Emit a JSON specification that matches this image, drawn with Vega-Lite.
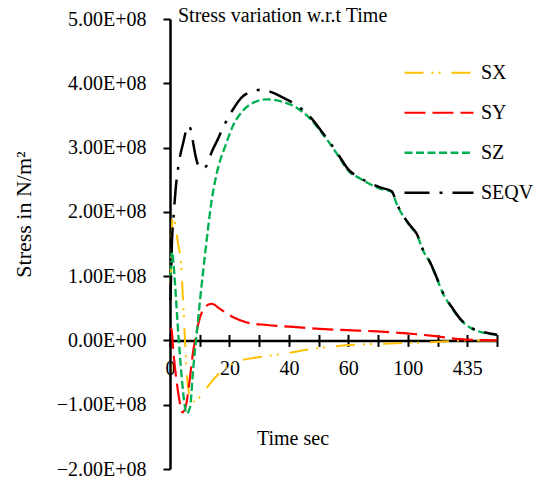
{
  "$schema": "https://vega.github.io/schema/vega-lite/v6.json",
  "width": 327,
  "height": 450,
  "autosize": {"type": "none"},
  "padding": {"left": 170, "top": 19, "right": 43, "bottom": 13},
  "background": "white",
  "title": {"text": "Stress variation w.r.t Time", "anchor": "start", "frame": "group", "font": "Liberation Serif", "fontSize": 20, "fontWeight": "normal", "color": "black", "dx": 8, "dy": 32, "baseline": "alphabetic", "offset": -1},
  "config": {
    "view": {"stroke": null},
    "axis": {"grid": false, "labelFont": "Liberation Serif", "labelFontSize": 20, "labelColor": "black", "titleFont": "Liberation Serif", "titleFontWeight": "normal", "titleColor": "black", "domainColor": "black", "tickColor": "black"}
  },
  "data": {"values": [
    {"series": "SX", "t": 0.17, "stress": 86000000},
    {"series": "SX", "t": 1.01, "stress": 198000000},
    {"series": "SX", "t": 1.85, "stress": 179000000},
    {"series": "SX", "t": 2.69, "stress": 151000000},
    {"series": "SX", "t": 3.7, "stress": 121000000},
    {"series": "SX", "t": 4.47, "stress": 54000000},
    {"series": "SX", "t": 5.05, "stress": 0},
    {"series": "SX", "t": 5.62, "stress": -50000000},
    {"series": "SX", "t": 6.73, "stress": -87000000},
    {"series": "SX", "t": 8.07, "stress": -95000000},
    {"series": "SX", "t": 10.09, "stress": -88000000},
    {"series": "SX", "t": 12.35, "stress": -74000000},
    {"series": "SX", "t": 14.57, "stress": -61000000},
    {"series": "SX", "t": 17.83, "stress": -46000000},
    {"series": "SX", "t": 21.29, "stress": -36000000},
    {"series": "SX", "t": 24.0, "stress": -31000000},
    {"series": "SX", "t": 28.59, "stress": -27000000},
    {"series": "SX", "t": 38.11, "stress": -21000000},
    {"series": "SX", "t": 48.2, "stress": -13000000},
    {"series": "SX", "t": 58.3, "stress": -8000000},
    {"series": "SX", "t": 71.75, "stress": -5000000},
    {"series": "SX", "t": 86.35, "stress": -3000000},
    {"series": "SX", "t": 101.9, "stress": 0},
    {"series": "SX", "t": 110, "stress": 0},
    {"series": "SY", "t": 0.1, "stress": 19000000},
    {"series": "SY", "t": 0.57, "stress": 16000000},
    {"series": "SY", "t": 1.11, "stress": -16000000},
    {"series": "SY", "t": 2.19, "stress": -62000000},
    {"series": "SY", "t": 3.36, "stress": -98000000},
    {"series": "SY", "t": 4.2, "stress": -112000000},
    {"series": "SY", "t": 5.38, "stress": -101000000},
    {"series": "SY", "t": 6.16, "stress": -78000000},
    {"series": "SY", "t": 7.84, "stress": -16000000},
    {"series": "SY", "t": 9.52, "stress": 26000000},
    {"series": "SY", "t": 11.77, "stress": 52000000},
    {"series": "SY", "t": 14.03, "stress": 57000000},
    {"series": "SY", "t": 16.82, "stress": 49000000},
    {"series": "SY", "t": 21.29, "stress": 36000000},
    {"series": "SY", "t": 25.8, "stress": 28000000},
    {"series": "SY", "t": 32.53, "stress": 24000000},
    {"series": "SY", "t": 41.48, "stress": 21000000},
    {"series": "SY", "t": 50.46, "stress": 18000000},
    {"series": "SY", "t": 59.44, "stress": 16000000},
    {"series": "SY", "t": 69.53, "stress": 14000000},
    {"series": "SY", "t": 79.63, "stress": 11000000},
    {"series": "SY", "t": 88.57, "stress": 7000000},
    {"series": "SY", "t": 97.56, "stress": 2000000},
    {"series": "SY", "t": 110, "stress": 0},
    {"series": "SZ", "t": 0.17, "stress": 93000000},
    {"series": "SZ", "t": 0.67, "stress": 140000000},
    {"series": "SZ", "t": 1.18, "stress": 120000000},
    {"series": "SZ", "t": 1.68, "stress": 89000000},
    {"series": "SZ", "t": 2.79, "stress": 11000000},
    {"series": "SZ", "t": 3.94, "stress": -57000000},
    {"series": "SZ", "t": 5.05, "stress": -104000000},
    {"series": "SZ", "t": 5.6, "stress": -114000000},
    {"series": "SZ", "t": 6.73, "stress": -104000000},
    {"series": "SZ", "t": 7.84, "stress": -42000000},
    {"series": "SZ", "t": 8.98, "stress": 10000000},
    {"series": "SZ", "t": 10.09, "stress": 62000000},
    {"series": "SZ", "t": 11.94, "stress": 140000000},
    {"series": "SZ", "t": 14.03, "stress": 218000000},
    {"series": "SZ", "t": 16.25, "stress": 270000000},
    {"series": "SZ", "t": 18.5, "stress": 301000000},
    {"series": "SZ", "t": 21.3, "stress": 335000000},
    {"series": "SZ", "t": 24.66, "stress": 358000000},
    {"series": "SZ", "t": 29.17, "stress": 372000000},
    {"series": "SZ", "t": 32.53, "stress": 375000000},
    {"series": "SZ", "t": 38.11, "stress": 371000000},
    {"series": "SZ", "t": 42.62, "stress": 362000000},
    {"series": "SZ", "t": 47.1, "stress": 345000000},
    {"series": "SZ", "t": 50.69, "stress": 325000000},
    {"series": "SZ", "t": 53.82, "stress": 306000000},
    {"series": "SZ", "t": 57.19, "stress": 283000000},
    {"series": "SZ", "t": 59.98, "stress": 264000000},
    {"series": "SZ", "t": 63.92, "stress": 252000000},
    {"series": "SZ", "t": 70.64, "stress": 236000000},
    {"series": "SZ", "t": 74.58, "stress": 231000000},
    {"series": "SZ", "t": 76.26, "stress": 212000000},
    {"series": "SZ", "t": 80.74, "stress": 178000000},
    {"series": "SZ", "t": 82.99, "stress": 165000000},
    {"series": "SZ", "t": 85.21, "stress": 139000000},
    {"series": "SZ", "t": 87.46, "stress": 121000000},
    {"series": "SZ", "t": 89.71, "stress": 97000000},
    {"series": "SZ", "t": 91.94, "stress": 72000000},
    {"series": "SZ", "t": 94.77, "stress": 51000000},
    {"series": "SZ", "t": 97.56, "stress": 33000000},
    {"series": "SZ", "t": 100.92, "stress": 20000000},
    {"series": "SZ", "t": 105.4, "stress": 12000000},
    {"series": "SZ", "t": 110, "stress": 9000000},
    {"series": "SEQV", "t": 0.17, "stress": 62000000},
    {"series": "SEQV", "t": 0.57, "stress": 140000000},
    {"series": "SEQV", "t": 1.35, "stress": 202000000},
    {"series": "SEQV", "t": 1.92, "stress": 236000000},
    {"series": "SEQV", "t": 2.79, "stress": 270000000},
    {"series": "SEQV", "t": 4.47, "stress": 308000000},
    {"series": "SEQV", "t": 6.16, "stress": 334000000},
    {"series": "SEQV", "t": 7.06, "stress": 327000000},
    {"series": "SEQV", "t": 7.84, "stress": 306000000},
    {"series": "SEQV", "t": 8.65, "stress": 286000000},
    {"series": "SEQV", "t": 9.59, "stress": 271000000},
    {"series": "SEQV", "t": 10.66, "stress": 267000000},
    {"series": "SEQV", "t": 12.35, "stress": 272000000},
    {"series": "SEQV", "t": 14.03, "stress": 293000000},
    {"series": "SEQV", "t": 15.98, "stress": 312000000},
    {"series": "SEQV", "t": 17.93, "stress": 332000000},
    {"series": "SEQV", "t": 21.29, "stress": 360000000},
    {"series": "SEQV", "t": 24.12, "stress": 378000000},
    {"series": "SEQV", "t": 27.48, "stress": 387000000},
    {"series": "SEQV", "t": 30.85, "stress": 390000000},
    {"series": "SEQV", "t": 34.75, "stress": 385000000},
    {"series": "SEQV", "t": 38.69, "stress": 376000000},
    {"series": "SEQV", "t": 42.62, "stress": 366000000},
    {"series": "SEQV", "t": 47.67, "stress": 345000000},
    {"series": "SEQV", "t": 50.69, "stress": 327000000},
    {"series": "SEQV", "t": 53.82, "stress": 308000000},
    {"series": "SEQV", "t": 57.19, "stress": 285000000},
    {"series": "SEQV", "t": 59.98, "stress": 266000000},
    {"series": "SEQV", "t": 63.92, "stress": 253000000},
    {"series": "SEQV", "t": 70.64, "stress": 238000000},
    {"series": "SEQV", "t": 74.58, "stress": 232000000},
    {"series": "SEQV", "t": 76.26, "stress": 213000000},
    {"series": "SEQV", "t": 80.74, "stress": 179000000},
    {"series": "SEQV", "t": 82.99, "stress": 166000000},
    {"series": "SEQV", "t": 85.21, "stress": 140000000},
    {"series": "SEQV", "t": 87.46, "stress": 122000000},
    {"series": "SEQV", "t": 89.71, "stress": 98000000},
    {"series": "SEQV", "t": 91.94, "stress": 73000000},
    {"series": "SEQV", "t": 94.77, "stress": 52000000},
    {"series": "SEQV", "t": 97.56, "stress": 34000000},
    {"series": "SEQV", "t": 100.92, "stress": 21000000},
    {"series": "SEQV", "t": 105.4, "stress": 13000000},
    {"series": "SEQV", "t": 110, "stress": 9000000}
  ]},
  "resolve": {"axis": {"x": "independent"}},
  "layer": [
    {
      "mark": {"type": "point", "opacity": 0},
      "encoding": {
        "x": {"field": "t", "type": "quantitative", "scale": {"domain": [0, 110], "nice": false, "zero": false},
          "axis": {"orient": "top", "offset": -321.43, "values": [0, 10, 20, 30, 40, 50, 60, 70, 80, 90, 100, 110], "labels": false, "domain": false, "ticks": true, "tickSize": 6, "tickWidth": 2, "title": null}},
        "y": {"field": "stress", "type": "quantitative", "scale": {"domain": [-200000000, 500000000], "nice": false, "zero": false},
          "axis": {"values": [-200000000, -100000000, 0, 100000000, 200000000, 300000000, 400000000, 500000000],
            "labelExpr": "datum.value == 0 ? '0.00E+00' : format(datum.value / 100000000, '.2f') + 'E+08'",
            "tickSize": 7, "tickWidth": 2, "domainWidth": 2.5, "labelPadding": 17,
            "title": "Stress in N/m²", "titleFontSize": 22, "titleX": -147, "titleY": 195, "titleAngle": 270, "titleBaseline": "middle", "titleAlign": "center"}}
      }
    },
    {
      "mark": {"type": "line", "interpolate": "monotone"},
      "encoding": {
        "x": {"field": "t", "type": "quantitative",
          "axis": {"orient": "bottom", "offset": -128.57, "values": [0, 10, 20, 30, 40, 50, 60, 70, 80, 90, 100, 110],
            "labelExpr": "datum.value == 0 ? '0' : datum.value == 20 ? '20' : datum.value == 40 ? '40' : datum.value == 60 ? '60' : datum.value == 80 ? '100' : datum.value == 100 ? '435' : ''",
            "labelOverlap": false, "labelFlush": false, "tickSize": 6, "tickWidth": 2, "domainWidth": 2.5, "labelPadding": 12,
            "title": "Time sec", "titleFontSize": 20, "titleX": 122.5, "titleY": 98, "titleBaseline": "middle", "titleAlign": "center"}},
        "y": {"field": "stress", "type": "quantitative"},
        "color": {"field": "series", "type": "nominal",
          "scale": {"domain": ["SX", "SY", "SZ", "SEQV"], "range": ["#FFC000", "#FF0000", "#00B050", "#000000"]},
          "legend": {"orient": "none", "legendX": 233, "legendY": 34, "title": null, "symbolType": "stroke", "symbolSize": 4761, "symbolStrokeWidth": 2.5, "labelFont": "Liberation Serif", "labelFontSize": 20, "labelColor": "black", "labelOffset": 6, "rowPadding": 0, "clipHeight": 39.5, "padding": 0}},
        "strokeDash": {"field": "series", "type": "nominal",
          "scale": {"domain": ["SX", "SY", "SZ", "SEQV"], "range": [[19, 8, 2, 5, 2, 11], [21, 7], [8, 3.5], [25, 10, 3, 10]]}},
        "strokeWidth": {"field": "series", "type": "nominal",
          "scale": {"domain": ["SX", "SY", "SZ", "SEQV"], "range": [2, 2.5, 2.5, 3]}, "legend": null}
      }
    }
  ]
}
